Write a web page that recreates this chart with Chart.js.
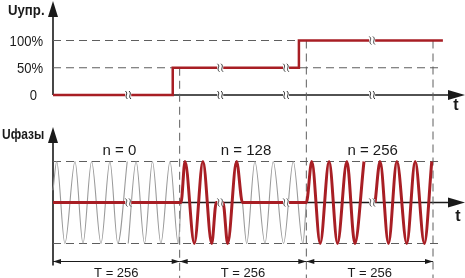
<!DOCTYPE html>
<html>
<head>
<meta charset="utf-8">
<script src="https://cdn.jsdelivr.net/npm/chart.js@4"></script>
<style>
  html, body { margin: 0; padding: 0; background: #fff; }
  canvas { display: block; }
</style>
</head>
<body>
<canvas id="c" width="465" height="278"></canvas>
<script>
// control signal U_upr, % of full scale (t in counts)
const ctrlT = [0, 242, 242, 497, 497, 788];
const ctrlV = [0, 0, 50, 50, 100, 100];
const ctrlTicks = [0, 50, 100];
const ctrlTickLabels = ['0', '50%', '100%'];

// phase output U_fazy (peaks +1, troughs -1)
const outT = [0, 258.7, 266.8, 285.6, 303, 320.7, 330, 343.6, 353, 371, 383,
              512, 523, 540, 558, 575, 594, 610, 628.5, 640,
              651, 661, 678, 695, 715, 732, 750.5, 765.5];
const outV = [0, 0, 1, -1, 1, -1, 0, 0, -1, 1, 0,
              0, 1, -1, 1, -1, 1, -1, 1, null,
              0, 1, -1, 1, -1, 1, -1, 1];

// mains half-waves shown in grey where output is off
const mainsT = [0, 7.5, 24, 44.5, 60.6, 78, 97, 115, 131, 150, 151,
                152, 168, 185, 201, 218, 236.5, 253, 258.7, 320,
                383, 391.5, 408, 428.5, 445, 466, 485.6, 505, 512];
const mainsV = [0.3, 1, -1, 1, -1, 1, -1, 1, -1, 1, null,
                -1, 1, -1, 1, -1, 1, -1, 0, null,
                0, -1, 1, -1, 1, -1, 1, -1, 0];

// periods
const periodStart = [0, 256, 512];
const periodLen = 256;
const periodN = ['n = 0', 'n = 128', 'n = 256'];
const boundaryT = [256, 512, 768];
const boundaryTopV = [50, 100, 100];
const gridEndT = 788;
const breakT = [152, 338, 471, 645];

// layout (pixels)
const W = 465, H = 278;
const originPx = 53, endPx = 433;
const u0Px = 95, u100Px = 40.5;
const f0Px = 202.5, f1Px = 161.5;

const pxPerT = (endPx - originPx) / 768;
const pxPerU = (u0Px - u100Px) / 100;
const pxPerF = f0Px - f1Px;

const RED = '#a81e24';
const DASH = '#5e5e5e';

const pts = (xs, ys) => xs.map((x, i) => ({ x: x, y: ys[i] }));

const dashed = (data, axis) => ({
  data: data, yAxisID: axis, borderColor: DASH, borderWidth: 1,
  borderDash: [8, 5], pointRadius: 0, tension: 0
});

const datasets = [
  { data: pts(outT, outV), yAxisID: 'yf', borderColor: RED, borderWidth: 3,
    cubicInterpolationMode: 'monotone', pointRadius: 0, spanGaps: false },
  { data: pts(ctrlT, ctrlV), yAxisID: 'yu', borderColor: RED, borderWidth: 2.5,
    pointRadius: 0, tension: 0 },
  { data: pts(mainsT, mainsV), yAxisID: 'yf', borderColor: '#9a9a9a', borderWidth: 1.1,
    cubicInterpolationMode: 'monotone', pointRadius: 0, spanGaps: false },
  dashed(pts([0, gridEndT], [100, 100]), 'yu'),
  dashed(pts([0, gridEndT], [50, 50]), 'yu'),
  dashed(pts([0, gridEndT], [1, 1]), 'yf'),
  dashed(pts([0, gridEndT], [-1, -1]), 'yf')
];
boundaryT.forEach((t, i) => {
  datasets.push(dashed(pts([t, t], [boundaryTopV[i], (u0Px - H - 5) / pxPerU]), 'yu'));
});

const FONT = "'Liberation Sans', Arial, sans-serif";
const INK = '#1a1a1a';

function arrowUp(ctx, x, tip, len, half) {
  ctx.beginPath();
  ctx.moveTo(x, tip); ctx.lineTo(x - half, tip + len); ctx.lineTo(x + half, tip + len);
  ctx.closePath(); ctx.fill();
}
function arrowH(ctx, tip, y, len, half) {
  ctx.beginPath();
  ctx.moveTo(tip, y); ctx.lineTo(tip - len, y - half); ctx.lineTo(tip - len, y + half);
  ctx.closePath(); ctx.fill();
}
function breakMark(ctx, px, py) {
  ctx.fillStyle = '#fff';
  ctx.fillRect(px - 3, py - 3.5, 6, 7);
  ctx.strokeStyle = '#333';
  ctx.lineWidth = 1;
  for (const dx of [-1.8, 1.8]) {
    ctx.beginPath();
    ctx.moveTo(px + dx - 1, py - 4);
    ctx.bezierCurveTo(px + dx + 2.5, py - 1, px + dx - 2.5, py + 1, px + dx + 1, py + 4);
    ctx.stroke();
  }
}
// condensed text: horizontal squeeze like the narrow face of the original
function narrowText(ctx, str, x, y, sx) {
  ctx.save();
  ctx.translate(x, y);
  ctx.scale(sx, 1);
  ctx.fillText(str, 0, 0);
  ctx.restore();
}

const diagram = {
  id: 'diagram',
  beforeDatasetsDraw(chart) {
    const { ctx, scales: { x, yu, yf } } = chart;
    const ax = x.getPixelForValue(0);
    ctx.save();
    ctx.strokeStyle = INK;
    ctx.lineWidth = 1.6;
    ctx.beginPath();
    ctx.moveTo(ax, 10); ctx.lineTo(ax, yu.getPixelForValue(0));
    ctx.moveTo(ax, yu.getPixelForValue(0)); ctx.lineTo(W - 10, yu.getPixelForValue(0));
    ctx.moveTo(ax, 136); ctx.lineTo(ax, yf.getPixelForValue(-1) + 22);
    ctx.moveTo(ax, yf.getPixelForValue(0)); ctx.lineTo(W - 10, yf.getPixelForValue(0));
    ctx.stroke();

    // period dimension lines
    const yDim = yf.getPixelForValue(-1) + 18;
    ctx.lineWidth = 1;
    ctx.fillStyle = INK;
    periodStart.forEach(s => {
      const a = x.getPixelForValue(s), b = x.getPixelForValue(s + periodLen);
      ctx.beginPath(); ctx.moveTo(a, yDim); ctx.lineTo(b, yDim); ctx.stroke();
      arrowH(ctx, a, yDim, -8, 2.5);
      arrowH(ctx, b, yDim, 8, 2.5);
    });
    ctx.restore();
  },
  afterDatasetsDraw(chart) {
    const { ctx, scales: { x, yu, yf } } = chart;
    const ax = x.getPixelForValue(0);
    ctx.save();

    // break marks
    breakT.forEach(t => {
      const px = x.getPixelForValue(t);
      let v = 0;
      for (let i = 0; i < ctrlT.length; i++) if (ctrlT[i] <= t) v = ctrlV[i];
      breakMark(ctx, px, yu.getPixelForValue(v));
      if (v !== 0) breakMark(ctx, px, yu.getPixelForValue(0));
      breakMark(ctx, px, yf.getPixelForValue(0));
    });

    // arrow heads
    ctx.fillStyle = INK;
    arrowUp(ctx, ax, 1, 16, 5);
    arrowUp(ctx, ax, 127, 16, 5);
    arrowH(ctx, W, yu.getPixelForValue(0), 17, 5);
    arrowH(ctx, W, yf.getPixelForValue(0), 17, 5);

    // texts
    ctx.fillStyle = INK;
    ctx.textBaseline = 'alphabetic';
    ctx.textAlign = 'left';
    ctx.font = 'bold 15px ' + FONT;
    narrowText(ctx, 'Uупр.', 8, 15, 0.88);
    narrowText(ctx, 'Uфазы', 2, 139, 0.8);

    ctx.textAlign = 'center';
    ctx.font = 'bold 16px ' + FONT;
    ctx.fillText('t', 456, yu.getPixelForValue(0) + 15);
    ctx.fillText('t', 458, yf.getPixelForValue(0) + 18);

    ctx.textAlign = 'right';
    ctx.textBaseline = 'middle';
    ctx.font = '15px ' + FONT;
    ctrlTicks.forEach((v, i) => {
      narrowText(ctx, ctrlTickLabels[i], v === 0 ? ax - 16 : ax - 10, yu.getPixelForValue(v) + 1, 0.87);
    });

    ctx.textAlign = 'center';
    ctx.textBaseline = 'alphabetic';
    periodStart.forEach((s, i) => {
      const cx = x.getPixelForValue(s + periodLen / 2);
      ctx.font = '15px ' + FONT;
      ctx.fillText(periodN[i], cx + 3, yf.getPixelForValue(1) - 7);
      ctx.font = '13px ' + FONT;
      ctx.fillText('T = ' + periodLen, cx, yf.getPixelForValue(-1) + 33);
    });
    ctx.restore();
  }
};

new Chart(document.getElementById('c').getContext('2d'), {
  type: 'line',
  data: { datasets: datasets },
  options: {
    responsive: false,
    animation: false,
    devicePixelRatio: 1,
    layout: { autoPadding: false, padding: 0 },
    plugins: { legend: { display: false }, tooltip: { enabled: false } },
    scales: {
      x: { type: 'linear', display: false, min: -originPx / pxPerT, max: (W - originPx) / pxPerT },
      yu: { type: 'linear', display: false, min: (u0Px - H) / pxPerU, max: u0Px / pxPerU },
      yf: { type: 'linear', display: false, min: (f0Px - H) / pxPerF, max: f0Px / pxPerF }
    }
  },
  plugins: [diagram]
});
</script>
</body>
</html>
